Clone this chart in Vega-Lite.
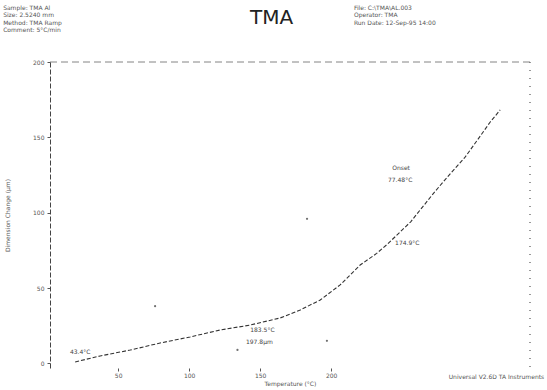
{
  "$schema": "https://vega.github.io/schema/vega-lite/v6.json",
  "autosize": {"type": "none"},
  "width": 480,
  "height": 306,
  "padding": {"left": 50, "top": 62, "right": 17, "bottom": 22},
  "background": "white",
  "config": {
    "view": {"stroke": null},
    "font": "DejaVu Sans",
    "axis": {"labelFont": "DejaVu Sans", "titleFont": "DejaVu Sans", "labelColor": "#555", "titleColor": "#555", "labelFontSize": 6, "titleFontSize": 6, "titleFontWeight": "normal", "grid": false, "tickColor": "#555", "domainColor": "#444"}
  },
  "datasets": {
    "curve": [
      {"t": 19.7, "d": 1.0}, {"t": 37.3, "d": 5.0}, {"t": 58.5, "d": 8.9}, {"t": 79.6, "d": 13.6},
      {"t": 100.7, "d": 17.6}, {"t": 121.8, "d": 22.2}, {"t": 143.0, "d": 25.5}, {"t": 164.1, "d": 30.2},
      {"t": 178.2, "d": 35.5}, {"t": 192.3, "d": 42.1}, {"t": 206.3, "d": 52.1}, {"t": 220.4, "d": 65.3},
      {"t": 232.0, "d": 73.0}, {"t": 240.0, "d": 79.5}, {"t": 256.0, "d": 94.0}, {"t": 273.0, "d": 114.0},
      {"t": 284.0, "d": 126.0}, {"t": 294.0, "d": 136.5}, {"t": 303.0, "d": 148.3}, {"t": 312.0, "d": 160.2},
      {"t": 319.0, "d": 168.2}
    ],
    "labels": [
      {"t": 16, "d": 7.6, "s": "43.4°C"},
      {"t": 143, "d": 22, "s": "183.5°C"},
      {"t": 140, "d": 14, "s": "197.8µm"},
      {"t": 243, "d": 130, "s": "Onset"},
      {"t": 240, "d": 122, "s": "77.48°C"},
      {"t": 245, "d": 80, "s": "174.9°C"}
    ],
    "dots": [
      {"t": 183, "d": 96}, {"t": 76, "d": 38}, {"t": 134, "d": 9}, {"t": 197, "d": 15}
    ],
    "header": [
      {"t": -31, "d": 236, "s": "Sample: TMA  Al"},
      {"t": -31, "d": 231, "s": "Size: 2.5240 mm"},
      {"t": -31, "d": 226, "s": "Method: TMA Ramp"},
      {"t": -31, "d": 221, "s": "Comment: 5°C/min"},
      {"t": 216, "d": 236, "s": "File: C:\\TMA\\AL.003"},
      {"t": 216, "d": 231, "s": "Operator: TMA"},
      {"t": 216, "d": 226, "s": "Run Date: 12-Sep-95 14:00"}
    ]
  },
  "layer": [
    {
      "data": {"name": "curve"},
      "mark": {"type": "line", "stroke": "#333", "strokeWidth": 1.1, "strokeDash": [4, 2], "clip": false},
      "encoding": {
        "x": {"field": "t", "type": "quantitative", "scale": {"domain": [2, 340], "nice": false, "zero": false},
          "axis": {"title": "Temperature (°C)", "values": [0, 50, 100, 150, 200], "domain": false, "tickSize": 3, "labelPadding": 1, "titlePadding": 2}},
        "y": {"field": "d", "type": "quantitative", "scale": {"domain": [-3, 200], "nice": false, "zero": false},
          "axis": {"title": "Dimension Change (µm)", "values": [0, 50, 100, 150, 200], "domainDash": [5, 2], "tickSize": 3, "titleX": -40, "labelPadding": 3}}
      }
    },
    {
      "data": {"values": [{"y": 200}]},
      "mark": {"type": "rule", "stroke": "#666", "strokeDash": [7, 4], "strokeWidth": 0.8},
      "encoding": {"y": {"field": "y", "type": "quantitative"}}
    },
    {
      "data": {"values": [{"x": 340}]},
      "mark": {"type": "rule", "stroke": "#555", "strokeDash": [1, 7], "strokeWidth": 1.2},
      "encoding": {"x": {"field": "x", "type": "quantitative"}}
    },
    {
      "data": {"name": "labels"},
      "mark": {"type": "text", "align": "left", "baseline": "middle", "fontSize": 6, "fill": "#444", "clip": false},
      "encoding": {"x": {"field": "t", "type": "quantitative"}, "y": {"field": "d", "type": "quantitative"}, "text": {"field": "s"}}
    },
    {
      "data": {"name": "dots"},
      "mark": {"type": "point", "filled": true, "size": 5, "color": "#333"},
      "encoding": {"x": {"field": "t", "type": "quantitative"}, "y": {"field": "d", "type": "quantitative"}}
    },
    {
      "data": {"name": "header"},
      "mark": {"type": "text", "align": "left", "baseline": "middle", "fontSize": 6, "fill": "#555", "clip": false},
      "encoding": {"x": {"field": "t", "type": "quantitative"}, "y": {"field": "d", "type": "quantitative"}, "text": {"field": "s"}}
    },
    {
      "data": {"values": [{"t": 158, "d": 229, "s": "TMA"}]},
      "mark": {"type": "text", "align": "center", "baseline": "middle", "fontSize": 20, "fill": "#222", "clip": false},
      "encoding": {"x": {"field": "t", "type": "quantitative"}, "y": {"field": "d", "type": "quantitative"}, "text": {"field": "s"}}
    },
    {
      "data": {"values": [{"t": 350, "d": -9, "s": "Universal V2.6D TA Instruments"}]},
      "mark": {"type": "text", "align": "right", "baseline": "middle", "fontSize": 6, "fill": "#555", "clip": false},
      "encoding": {"x": {"field": "t", "type": "quantitative"}, "y": {"field": "d", "type": "quantitative"}, "text": {"field": "s"}}
    }
  ]
}
